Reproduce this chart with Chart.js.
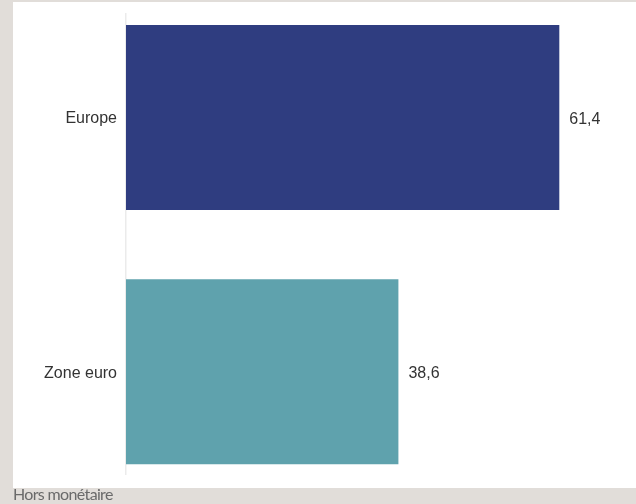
<!DOCTYPE html>
<html>
<head>
<meta charset="utf-8">
<script src="https://cdn.jsdelivr.net/npm/chart.js@4"></script>
<style>
  html, body { margin: 0; padding: 0; }
  body { width: 636px; height: 504px; background: #e1ddd9; position: relative; overflow: hidden; }
  #panel { position: absolute; left: 13px; top: 2px; width: 623px; height: 486px; background: #ffffff; }
  #caption { position: absolute; left: 13px; top: 485px; font-family: Lato, "Open Sans", sans-serif; font-size: 16px; color: #6a6a6a; letter-spacing: -0.65px; line-height: 18px; }
</style>
</head>
<body>
<div id="panel"><canvas id="c" width="623" height="486"></canvas></div>
<div id="caption">Hors monétaire</div>
<script>
const categories = ["Europe", "Zone euro"];
const values = [61.4, 38.6];
const barColors = ["#2f3d80", "#5fa2ad"];

const fmt = v => v.toFixed(1).replace('.', ',');

const valueLabels = {
  id: 'valueLabels',
  afterDatasetsDraw(chart) {
    const ctx = chart.ctx;
    const meta = chart.getDatasetMeta(0);
    ctx.save();
    ctx.font = '16px "Liberation Sans", Arial, sans-serif';
    ctx.fillStyle = '#333333';
    ctx.textAlign = 'left';
    ctx.textBaseline = 'middle';
    meta.data.forEach((bar, i) => {
      ctx.fillText(fmt(values[i]), bar.x + 10, bar.y + 2);
    });
    ctx.restore();
  }
};

new Chart(document.getElementById('c'), {
  type: 'bar',
  data: {
    datasets: [{
      data: categories.map((c, i) => ({ x: values[i], y: i })),
      backgroundColor: barColors,
      borderWidth: 0,
      categoryPercentage: 1.0,
      barPercentage: 0.728
    }]
  },
  options: {
    indexAxis: 'y',
    responsive: false,
    animation: false,
    devicePixelRatio: 1,
    layout: { padding: { top: 12, bottom: 14, left: 0, right: 16 } },
    plugins: { legend: { display: false }, tooltip: { enabled: false } },
    scales: {
      x: {
        type: 'linear',
        min: 0,
        max: 70,
        display: false
      },
      y: {
        type: 'linear',
        min: -0.407,
        max: 1.402,
        reverse: true,
        offset: false,
        afterBuildTicks(scale) {
          scale.ticks = categories.map((c, i) => ({ value: i }));
        },
        afterFit(scale) {
          scale.width = 113;
          scale.paddingTop = 0;
          scale.paddingBottom = 0;
        },
        grid: { display: false, drawTicks: false, offset: false },
        border: { display: true, color: '#ebebeb', width: 1.5 },
        ticks: {
          padding: 9,
          labelOffset: 1.5,
          color: '#333333',
          font: { family: '"Liberation Sans", Arial, sans-serif', size: 16 },
          callback: (v) => categories[v] !== undefined ? categories[v] : ''
        }
      }
    }
  },
  plugins: [valueLabels]
});
</script>
</body>
</html>
